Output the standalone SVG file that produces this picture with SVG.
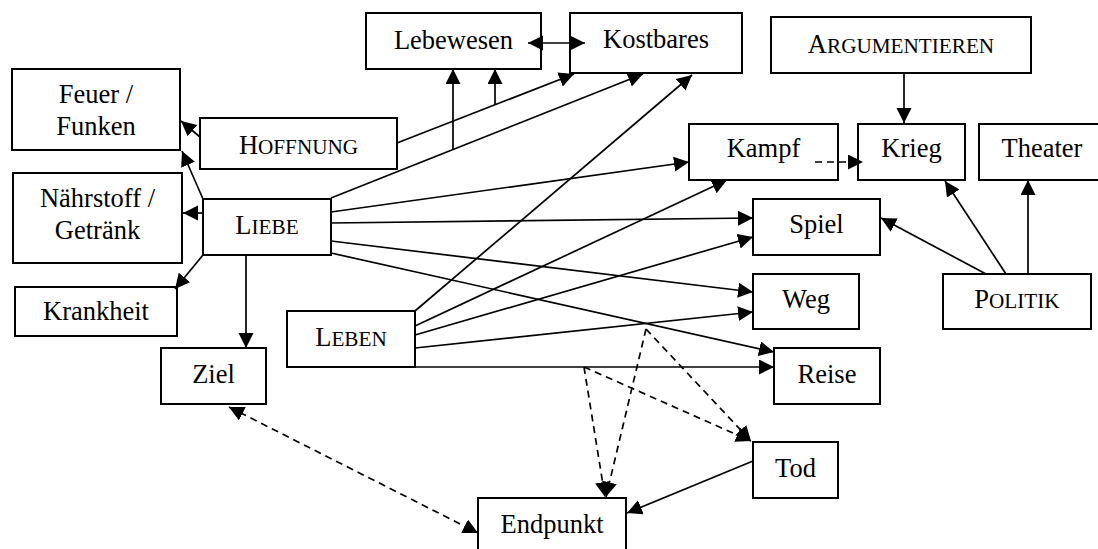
<svg xmlns="http://www.w3.org/2000/svg" width="1098" height="549" viewBox="0 0 1098 549">
<style>
.box{fill:#fff;stroke:#000;stroke-width:2}
text{font-family:"Liberation Serif","Times New Roman",serif;font-size:26.5px;fill:#000;text-anchor:middle}
.sc{font-size:21.2px}
.c{fill:none;stroke:#000;stroke-width:1.7}
.d{stroke-dasharray:7,5}
.a{marker-end:url(#ah)}
.b{marker-start:url(#ah);marker-end:url(#ah)}
</style>
<defs>
<marker id="ah" markerUnits="userSpaceOnUse" markerWidth="16" markerHeight="16" refX="15" refY="7.5" orient="auto-start-reverse">
<path d="M0,0 L15,7.5 L0,15 z" fill="#000"/>
</marker>
</defs>
<rect width="1098" height="549" fill="#fff"/>
<g id="feuer"><rect class="box" x="12" y="69" width="168" height="81"/><text x="96" y="103">Feuer /</text><text x="96" y="135">Funken</text></g>
<g id="hoffnung"><rect class="box" x="200" y="118" width="197" height="51"/><text x="298.5" y="154">H<tspan class="sc">OFFNUNG</tspan></text></g>
<g id="lebewesen"><rect class="box" x="366" y="13" width="175" height="56"/><text x="453.5" y="49">Lebewesen</text></g>
<g id="kostbares"><rect class="box" x="570" y="13" width="172" height="60"/><text x="656" y="48">Kostbares</text></g>
<g id="argumentieren"><rect class="box" x="771" y="17" width="260" height="56"/><text x="901" y="53">A<tspan class="sc">RGUMENTIEREN</tspan></text></g>
<g id="kampf"><rect class="box" x="689" y="124" width="149" height="56"/><text x="763.5" y="157">Kampf</text></g>
<g id="krieg"><rect class="box" x="858" y="124" width="107" height="56"/><text x="911.5" y="157">Krieg</text></g>
<g id="theater"><rect class="box" x="979" y="124" width="130" height="56"/><text x="1042" y="157">Theater</text></g>
<g id="naehrstoff"><rect class="box" x="13" y="173" width="169" height="90"/><text x="97.5" y="207">Nährstoff /</text><text x="97.5" y="239">Getränk</text></g>
<g id="liebe"><rect class="box" x="203" y="199" width="128" height="56"/><text x="267" y="234">L<tspan class="sc">IEBE</tspan></text></g>
<g id="krankheit"><rect class="box" x="15" y="287" width="162" height="49"/><text x="96" y="320">Krankheit</text></g>
<g id="ziel"><rect class="box" x="161" y="348" width="105" height="56"/><text x="213.5" y="383">Ziel</text></g>
<g id="leben"><rect class="box" x="287" y="311" width="128" height="56"/><text x="351" y="346">L<tspan class="sc">EBEN</tspan></text></g>
<g id="spiel"><rect class="box" x="753" y="199" width="127" height="56"/><text x="816.5" y="233">Spiel</text></g>
<g id="weg"><rect class="box" x="753" y="274" width="106" height="55"/><text x="806" y="308">Weg</text></g>
<g id="reise"><rect class="box" x="774" y="348" width="106" height="56"/><text x="827" y="383">Reise</text></g>
<g id="politik"><rect class="box" x="943" y="274" width="148" height="55"/><text x="1017" y="308">P<tspan class="sc">OLITIK</tspan></text></g>
<g id="tod"><rect class="box" x="753" y="442" width="85" height="56"/><text x="795.5" y="477">Tod</text></g>
<g id="endpunkt"><rect class="box" x="478" y="498" width="148" height="70"/><text x="552" y="533">Endpunkt</text></g>
<g id="connectors">
<path class="c a" d="M200,137 L181,121"/>
<path class="c a" d="M203,199 L182,151"/>
<path class="c a" d="M203,213 L183,213"/>
<path class="c a" d="M203,255 L175,289"/>
<path class="c a" d="M246,255 L246,348"/>
<path class="c a" d="M397,143 L574,74"/>
<path class="c a" d="M495,105 L495,69"/>
<path class="c a" d="M331,198 L643,74"/>
<path class="c a" d="M453,150 L453,69"/>
<path class="c a" d="M415,311 L692,75"/>
<path class="c a" d="M331,212 L689,162"/>
<path class="c a" d="M415,326 L727,180"/>
<path class="c a" d="M331,223 L753,218"/>
<path class="c a" d="M415,335 L753,237"/>
<path class="c a" d="M331,241 L753,292"/>
<path class="c a" d="M415,348 L753,312"/>
<path class="c a" d="M331,253 L774,352"/>
<path class="c a" d="M415,367 L774,367"/>
<path class="c d a" d="M815,162 L863,162"/>
<path class="c a" d="M904,73 L904,123"/>
<path class="c a" d="M1006,274 L945,181"/>
<path class="c a" d="M1028,274 L1028,180"/>
<path class="c a" d="M986,274 L881,218"/>
<path class="c d b" d="M229,407 L478,533"/>
<path class="c d a" d="M584,367 L605,497"/>
<path class="c d a" d="M646,329 L606,497"/>
<path class="c d a" d="M584,367 L751,441"/>
<path class="c d a" d="M646,329 L751,441"/>
<path class="c a" d="M753,461 L627,513"/>
<path class="c b" d="M528,43 L585,43"/>
</g>
</svg>
